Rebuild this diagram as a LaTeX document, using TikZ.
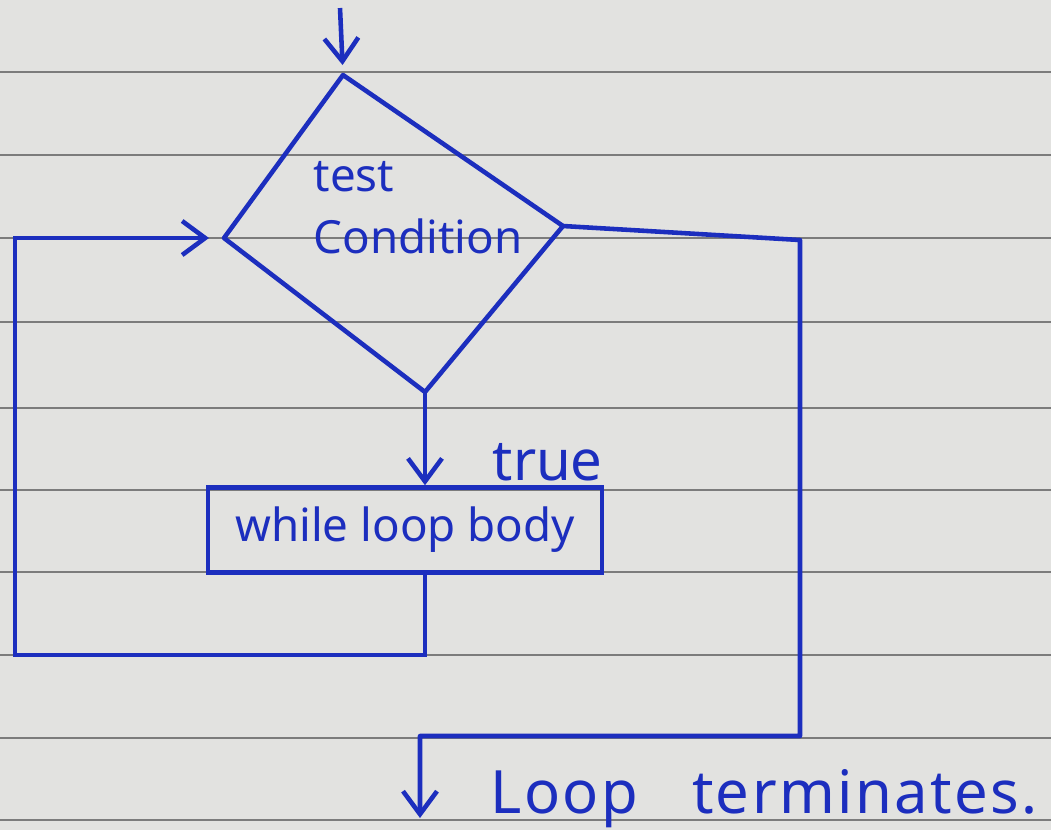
\documentclass[tikz,border=0pt]{standalone}
\usepackage{fontspec}
\setmainfont{Noto Sans}
\usepackage{tikz}
\usetikzlibrary{arrows.meta, positioning, calc}
\definecolor{inkblue}{HTML}{1C2EBE}
\definecolor{paper}{HTML}{E2E2E0}
\definecolor{rulegray}{HTML}{7C7C7C}

\begin{document}
\begin{tikzpicture}[>={Straight Barb[length=2.3mm, width=3.4mm]},
    ink/.style={draw=inkblue, line width=1.3pt},
    handtext/.style={text=inkblue, inner sep=0pt}]
    \fill[paper] (0,0) rectangle (10.51,-8.30);
    \useasboundingbox (0,0) rectangle (10.51,-8.30);
    % ruled paper
    \foreach \y in {0.72,1.55,2.38,3.22,4.08,4.90,5.72,6.55,7.38,8.20}
        \draw[rulegray, line width=0.6pt] (0,-\y) -- (10.51,-\y);

    % test condition
    \coordinate (start) at (3.40,-0.08);
    \coordinate (ctop) at (3.43,-0.75);
    \coordinate (cright) at (5.63,-2.26);
    \coordinate (cbottom) at (4.25,-3.92);
    \coordinate (cleft) at (2.24,-2.38);
    \draw[ink, line join=round] (ctop) -- (cright) -- (cbottom) -- (cleft) -- cycle;
    \node[handtext, align=left, font=\fontsize{13}{17.6}\selectfont] (cond) at (4.18,-2.08) {test\\Condition};
    \draw[ink, ->, shorten >=1mm] (start) -- (ctop);

    % loop body
    \node[ink, minimum width=3.94cm, minimum height=0.85cm, inner sep=0pt, text=inkblue,
        font=\fontsize{13}{15}\selectfont] (body) at (4.05,-5.30) {while loop body};
    \draw[ink, ->] (cbottom) -- (cbottom |- body.north);
    \node[handtext, anchor=base west, font=\fontsize{16}{19}\selectfont] (truelbl) at (4.92,-4.80) {true};

    % back to the test
    \coordinate (loopcorner) at (0.15,-6.55);
    \draw[ink, ->, shorten >=1.5mm] (cbottom |- body.south) |- (loopcorner) |- (cleft);

    % exit
    \coordinate (exittop) at (8.00,-2.40);
    \coordinate (exitcorner) at (8.00,-7.36);
    \coordinate (exitdrop) at (4.20,-8.18);
    \draw[ink, ->, line join=round] (cright) -- (exittop) -- (exitcorner) -| (exitdrop);
    \node[handtext, anchor=base west, font=\fontsize{17}{19}\selectfont\addfontfeature{LetterSpace=4}] (term) at (4.90,-8.13) {Loop\hspace{0.6em} terminates.};
\end{tikzpicture}
\end{document}
